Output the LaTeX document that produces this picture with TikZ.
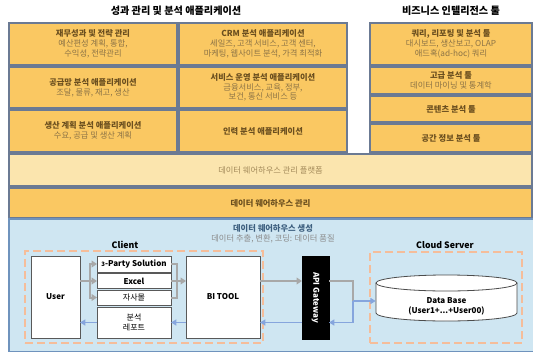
\documentclass[tikz,border=0pt]{standalone}
\usepackage{fontspec}
\setmainfont{Noto Sans CJK KR}
\usetikzlibrary{arrows.meta,calc}
\definecolor{ofill}{HTML}{FAC862}
\definecolor{bord}{HTML}{6B7A93}
\definecolor{ttl}{HTML}{6B4F1F}
\definecolor{subt}{HTML}{8C7346}
\definecolor{pfill}{HTML}{FBE5AE}
\definecolor{ptxt}{HTML}{A38A5A}
\definecolor{bfill}{HTML}{CFE6F2}
\definecolor{bbord}{HTML}{6F93BD}
\definecolor{dsh}{HTML}{F5BD9A}
\definecolor{garr}{HTML}{A8A8A8}
\definecolor{barr}{HTML}{86A5DD}
\definecolor{gent}{HTML}{3E6080}
\definecolor{gens}{HTML}{8C8C8C}
\newcommand\bxt[1]{{\color{ttl}\bfseries #1}}
\newcommand\rbox[7]{%
  \pgfmathsetmacro\rbw{(#5-#3)*0.75}%
  \pgfmathsetmacro\rbh{(#6-#4)*0.75}%
  \node[#2, minimum width=\rbw pt, minimum height=\rbh pt] (#1) at ({(#3+#5)/2},{(#4+#6)/2}) {#7};}
\tikzset{
  ob/.style={draw=bord, fill=ofill, line width=0.8pt, inner sep=0pt, outer sep=0pt, align=center, text=subt, font=\fontsize{6.2}{7.3}\selectfont},
  pb/.style={ob, fill=pfill, text=ptxt},
  blu/.style={draw=bbord, fill=bfill, line width=0.8pt, inner sep=0pt, outer sep=0pt},
  dbox/.style={draw=dsh, line width=2pt, dash pattern=on 6pt off 3pt, inner sep=0pt, outer sep=0pt},
  wb/.style={draw=black!65, fill=white, line width=0.6pt, inner sep=0pt, outer sep=0pt, align=center, font=\fontsize{6}{7.5}\selectfont\bfseries},
  apibox/.style={draw=black, fill=black, inner sep=0pt, outer sep=0pt},
  lbl/.style={font=\fontsize{6.6}{8}\selectfont\bfseries, inner sep=0pt},
  gline/.style={draw=garr, line width=1.5pt},
  garrow/.style={gline, -{Triangle[length=4pt,width=5pt]}},
  bline/.style={draw=barr, line width=1.2pt},
  barrow/.style={bline, -{Triangle[length=4pt,width=4.5pt]}},
}
\begin{document}
\begin{tikzpicture}[x=0.75pt,y=-0.75pt]
\useasboundingbox (0,0) rectangle (533,351);
% titles
\node[font=\fontsize{7.6}{9}\selectfont\bfseries, inner sep=0pt] (t1) at (176,11) {성과 관리 및 분석 애플리케이션};
\node[font=\fontsize{7.6}{9}\selectfont\bfseries, inner sep=0pt] (t2) at (451,11) {비즈니스 인텔리전스 툴};
% orange boxes
\rbox{a1}{ob}{9}{23}{177}{65}{\bxt{재무성과 및 전략 관리}\\예산편성 계획, 통합,\\수익성, 전략관리}
\rbox{a2}{ob}{9}{67}{177}{108}{\bxt{공급망 분석 애플리케이션}\\조달, 물류, 재고, 생산}
\rbox{a3}{ob}{9}{110}{177}{152}{\bxt{생산 계획 분석 애플리케이션}\\수요, 공급 및 생산 계획}
\rbox{b1}{ob}{179}{23}{347}{65}{\bxt{CRM 분석 애플리케이션}\\세일즈, 고객 서비스, 고객 센터,\\마케팅, 웹사이트 분석, 가격 최적화}
\rbox{b2}{ob}{179}{67}{347}{108}{\bxt{서비스 운영 분석 애플리케이션}\\금융서비스, 교육, 정부,\\보건, 통신 서비스 등}
\rbox{b3}{ob}{179}{110}{347}{152}{\bxt{인력 분석 애플리케이션}}
\rbox{c1}{ob}{370}{23}{532}{65}{\bxt{쿼리, 리포팅 및 분석 툴}\\대시보드, 생산보고, OLAP\\애드혹(ad-hoc) 쿼리}
\rbox{c2}{ob}{370}{67}{532}{94}{\bxt{고급 분석 툴}\\데이터 마이닝 및 통계학}
\rbox{c3}{ob}{370}{96}{532}{122}{\bxt{콘텐츠 분석 툴}}
\rbox{c4}{ob}{370}{124}{532}{152}{\bxt{공간 정보 분석 툴}}
\rbox{pf}{pb}{9}{154}{532}{186}{데이터 웨어하우스 관리 플랫폼}
\rbox{mg}{ob}{9}{188}{532}{218}{\bxt{데이터 웨어하우스 관리}}
% blue region
\rbox{bl}{blu}{9}{219}{534}{352}{}
\node[align=center, inner sep=0pt, font=\fontsize{6.2}{7.8}\selectfont, text=gens] (gen) at (273,233.5) {{\color{gent}\bfseries 데이터 웨어하우스 생성}\\데이터 추출, 변환, 코딩: 데이터 품질};
% dashed groups
\rbox{cl}{dbox}{25}{251}{263}{343}{}
\rbox{cs}{dbox}{370}{252}{522}{343}{}
\node[lbl] (cll) at (125,245) {Client};
\node[lbl] (csl) at (445,245) {Cloud Server};
% client boxes
\rbox{user}{wb}{31}{256}{80}{338}{User}
\rbox{party}{wb}{97}{256}{171}{272}{{\fontsize{4.5}{5}\selectfont 3}-Party Solution}
\rbox{excel}{wb}{97}{273.5}{171}{288.5}{Excel}
\rbox{own}{wb}{97}{290}{171}{305}{\mdseries 자사몰}
\rbox{rpt}{wb}{97}{307}{171}{338}{\mdseries 분석\\\mdseries 레포트}
\rbox{bi}{wb}{186}{256}{260}{338}{BI TOOL}
\rbox{api}{apibox}{302}{256}{329}{339}{}
\node[text=white, font=\fontsize{6}{7}\selectfont\bfseries, rotate=-90, inner sep=0pt] (apit) at (api.center) {API Gateway};
% cylinder
\draw[fill=white, draw=black!70, line width=0.6pt] (376,283) -- (376,313) arc[start angle=180, end angle=0, x radius=70.5, y radius=8] -- (517,283);
\draw[fill=white, draw=black!70, line width=0.6pt] (446.5,283) ellipse [x radius=70.5, y radius=8];
\node[align=center, inner sep=0pt, minimum width=105.75pt, minimum height=22pt, font=\fontsize{6}{8}\selectfont\bfseries] (db) at (446.5,306.5) {Data Base\\(User1+...+User00)};
% connectors
\coordinate (sp) at ($(user.east |- excel.west)+(10,0)$);
\draw[gline] (user.east |- excel.west) -- (sp);
\draw[garrow] (sp) -- (excel.west);
\draw[garrow] (sp) |- (party.west);
\draw[garrow] (sp) |- (own.west);
\coordinate (mgp) at ($(excel.east)+(6,0)$);
\draw[gline] (party.east) -| (mgp);
\draw[gline] (own.east) -| (mgp);
\draw[garrow] (excel.east) -- (bi.west |- excel.east);
\draw[garrow] (bi.east |- excel.east) -- (api.west |- excel.east);
\coordinate (j) at (353,301);
\draw[gline] (api.east |- excel.east) -| (j);
\draw[barrow] (j) -- (db.west |- j);
\draw[barrow] (j) |- (api.east |- rpt.east);
\draw[barrow] (api.west |- rpt.east) -- (bi.east |- rpt.east);
\draw[barrow] (bi.west |- rpt.east) -- (rpt.east);
\draw[barrow] (rpt.west) -- (user.east |- rpt.west);
\end{tikzpicture}
\end{document}
